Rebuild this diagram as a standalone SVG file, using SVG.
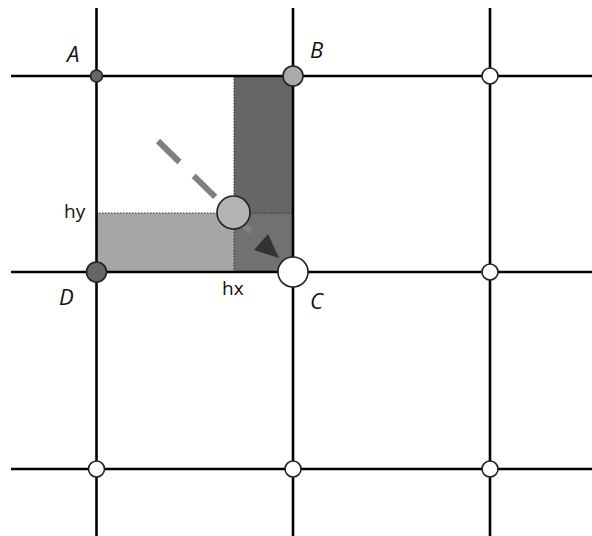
<svg xmlns="http://www.w3.org/2000/svg" width="592" height="536" viewBox="0 0 592 536">
<style>
.grid{stroke:#000;stroke-width:2.6;fill:none}
.dot{stroke:#222;stroke-width:1.6}
.lbl{font-family:"Open Sans","Liberation Sans",sans-serif;font-style:italic;font-size:22px;fill:#111}
.sm{font-family:"Open Sans","Liberation Sans",sans-serif;font-size:19px;fill:#111}
.dotted{stroke:#333;stroke-width:1;stroke-dasharray:1.5 1.5;fill:none}
</style>
<rect width="592" height="536" fill="#fff"/>
<g id="cells">
<rect x="234" y="76" width="59" height="197" fill="#666666"/>
<rect x="96" y="213" width="138" height="60" fill="#a6a6a6"/>
<rect x="234" y="213" width="59" height="60" fill="#717171"/>
<line class="dotted" x1="96" y1="213" x2="293" y2="213"/>
<line class="dotted" x1="234" y1="76" x2="234" y2="273"/>
</g>
<g id="grid">
<line class="grid" x1="11" y1="76" x2="592" y2="76"/>
<line class="grid" x1="11" y1="272" x2="592" y2="272"/>
<line class="grid" x1="11" y1="469" x2="592" y2="469"/>
<line class="grid" x1="96.5" y1="8" x2="96.5" y2="536"/>
<line class="grid" x1="293" y1="8" x2="293" y2="536"/>
<line class="grid" x1="490" y1="8" x2="490" y2="536"/>
</g>
<g id="connectors">
<line x1="158" y1="141" x2="252" y2="233" stroke="#808080" stroke-width="6" stroke-dasharray="30 20"/>
<polygon points="254,250 268,234 279,258" fill="#333"/>
</g>
<g id="nodeA"><circle class="dot" cx="96.5" cy="76" r="6" fill="#666"/><text class="lbl" x="67" y="62">A</text></g>
<g id="nodeB"><circle class="dot" cx="293" cy="76" r="10" fill="#aaa"/><text class="lbl" x="310" y="58">B</text></g>
<g id="nodeD"><circle class="dot" cx="96.5" cy="272" r="10" fill="#666"/><text class="lbl" x="59" y="305">D</text></g>
<g id="nodeC"><circle class="dot" cx="293" cy="272" r="15" fill="#fff"/><text class="lbl" x="310" y="309">C</text></g>
<g id="nodeP"><circle class="dot" cx="233.5" cy="212.5" r="16.5" fill="#b3b3b3"/></g>
<g id="hy"><text class="sm" x="64" y="218">hy</text></g>
<g id="hx"><text class="sm" x="222" y="295">hx</text></g>
<g id="n1"><circle class="dot" cx="490" cy="76" r="8" fill="#fff"/></g>
<g id="n2"><circle class="dot" cx="490" cy="272" r="8" fill="#fff"/></g>
<g id="n3"><circle class="dot" cx="96.5" cy="469" r="8" fill="#fff"/></g>
<g id="n4"><circle class="dot" cx="293" cy="469" r="8" fill="#fff"/></g>
<g id="n5"><circle class="dot" cx="490" cy="469" r="8" fill="#fff"/></g>
</svg>
